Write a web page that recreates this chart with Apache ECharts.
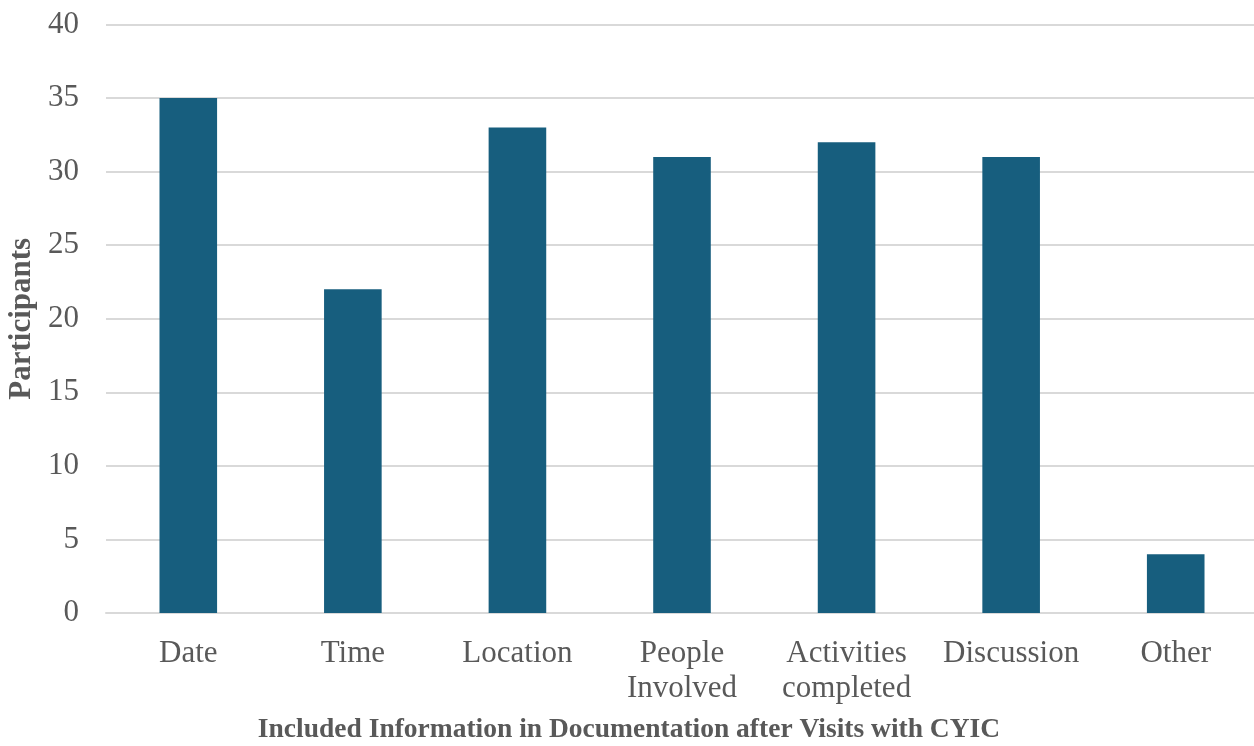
<!DOCTYPE html>
<html>
<head>
<meta charset="utf-8">
<style>
  html, body { margin: 0; padding: 0; background: #ffffff; }
  #chart { width: 1254px; height: 746px; }
</style>
<script src="https://cdn.jsdelivr.net/npm/echarts@6/dist/echarts.min.js"></script>
</head>
<body>
<div id="chart"></div>
<script>
// Information recorded in documentation after visits
const categories = ['Date', 'Time', 'Location', 'People\nInvolved', 'Activities\ncompleted', 'Discussion', 'Other'];
const participants = [35, 22, 33, 31, 32, 31, 4];
const yTicks = { min: 0, max: 40, interval: 5 };

const xAxisTitle = 'Included Information in Documentation after Visits with CYIC';
const yAxisTitle = 'Participants';

const textColor = '#595959';
const barColor = '#175e7e';
const serif = '"Liberation Serif", "Times New Roman", serif';

const chart = echarts.init(document.getElementById('chart'), null, { renderer: 'canvas' });
chart.setOption({
  animation: false,
  backgroundColor: '#ffffff',
  grid: {
    left: 106, right: -4, top: 24.5, bottom: 133,
    containLabel: false,
    outerBoundsMode: 'none'
  },
  xAxis: {
    type: 'category',
    data: categories,
    name: xAxisTitle,
    nameLocation: 'middle',
    nameGap: 103,
    nameTextStyle: {
      fontFamily: serif, fontSize: 27.5, fontWeight: 'bold', color: textColor,
      padding: [0, 106, 0, 0]
    },
    axisLine: { show: true, lineStyle: { color: '#d9d9d9', width: 2 } },
    axisTick: { show: false },
    axisLabel: {
      fontFamily: serif, fontSize: 31, color: textColor,
      lineHeight: 35, margin: 23, interval: 0
    }
  },
  yAxis: {
    type: 'value',
    min: yTicks.min, max: yTicks.max, interval: yTicks.interval,
    name: yAxisTitle,
    nameLocation: 'middle',
    nameGap: 69,
    nameTextStyle: { fontFamily: serif, fontSize: 31, fontWeight: 'bold', color: textColor },
    axisLine: { show: false },
    axisTick: { show: false },
    axisLabel: { fontFamily: serif, fontSize: 31, color: textColor, margin: 27 },
    splitLine: { lineStyle: { color: '#d9d9d9', width: 2 } }
  },
  series: [{
    type: 'bar',
    data: participants,
    barWidth: '35%',
    itemStyle: { color: barColor }
  }]
});
</script>
</body>
</html>
